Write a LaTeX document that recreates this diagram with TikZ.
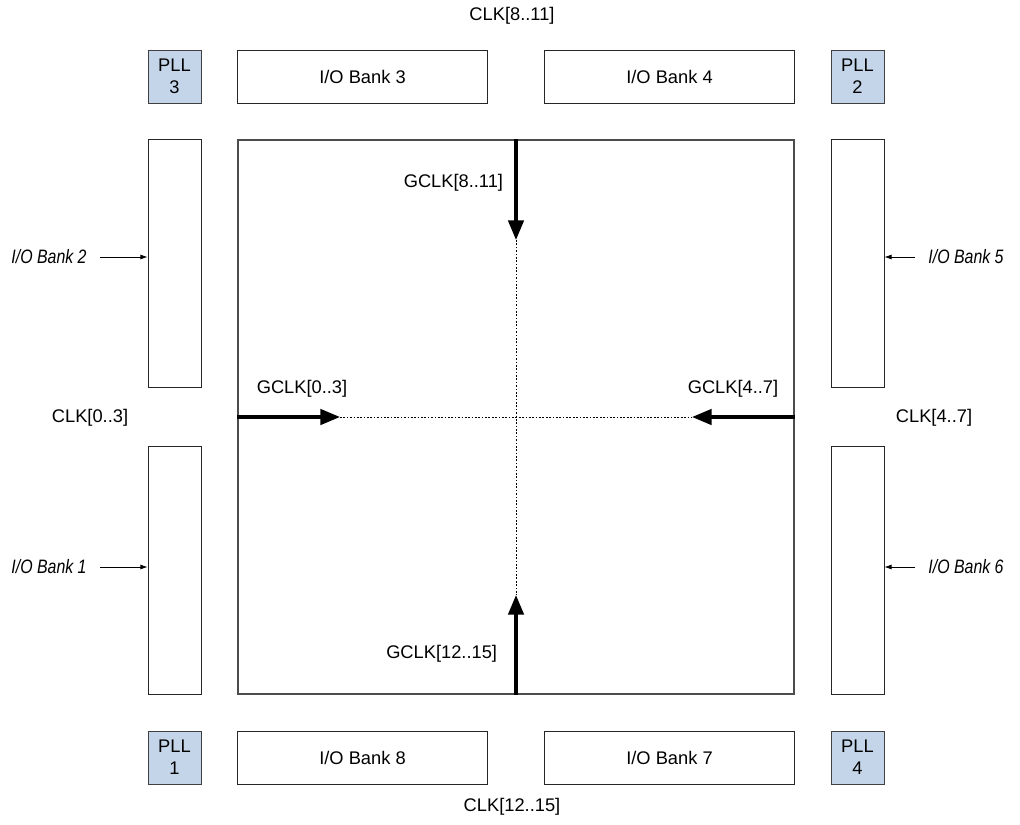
\documentclass[tikz,border=0pt]{standalone}
\usepackage{fontspec}
\setmainfont{Liberation Sans}
\newfontfamily\condit[FakeStretch=0.82]{Liberation Sans}
\usetikzlibrary{arrows.meta}
\definecolor{pllblue}{RGB}{196,213,234}
\tikzset{
  pll/.style={draw=black!75, fill=pllblue, line width=0.7pt, minimum width=1.325cm, minimum height=1.325cm, inner sep=0pt, align=center, font=\fontsize{13}{15.5}\selectfont},
  hbank/.style={draw=black!85, line width=0.7pt, minimum width=6.225cm, minimum height=1.325cm, inner sep=0pt},
  vbank/.style={draw=black!85, line width=0.7pt, minimum width=1.325cm, minimum height=6.175cm, inner sep=0pt},
  corebox/.style={draw=black!70, line width=0.9pt, minimum width=13.9cm, minimum height=13.85cm, inner sep=0pt},
  clkarrow/.style={-{Triangle[length=14pt,width=11pt]}, line width=2.3pt},
  dotline/.style={dash pattern=on 1.2pt off 1.2pt, line width=0.7pt},
  smallarrow/.style={-{Latex[length=5pt,width=3.5pt]}, line width=0.5pt, shorten <=6pt},
  banklabel/.style={font=\condit\itshape\fontsize{13.8}{16}\selectfont}
}
\begin{document}
\begin{tikzpicture}[x=0.025cm, y=-0.025cm, font=\fontsize{13}{15.5}\selectfont]
\useasboundingbox (0,0) rectangle (1020,824);

% Core
\node[corebox] (core) at (516,417) {};

% Top row
\node[pll] (pll3) at (174.5,76.5) {PLL\\3};
\node[hbank] (bank3) at (362.5,76.5) {I/O Bank 3};
\node[hbank] (bank4) at (669.5,76.5) {I/O Bank 4};
\node[pll] (pll2) at (857.5,76.5) {PLL\\2};

% Bottom row
\node[pll] (pll1) at (174.5,757.5) {PLL\\1};
\node[hbank] (bank8) at (362.5,757.5) {I/O Bank 8};
\node[hbank] (bank7) at (669.5,757.5) {I/O Bank 7};
\node[pll] (pll4) at (857.5,757.5) {PLL\\4};

% Side banks
\node[vbank] (bank2) at (174.5,263.5) {};
\node[vbank] (bank1) at (174.5,570.5) {};
\node[vbank] (bank5) at (857.5,263.5) {};
\node[vbank] (bank6) at (857.5,570.5) {};

% Bank labels
\node[banklabel] (lab2) at (49,257) {I/O Bank 2};
\node[banklabel] (lab1) at (49,567) {I/O Bank 1};
\node[banklabel] (lab5) at (966,257) {I/O Bank 5};
\node[banklabel] (lab6) at (966,567) {I/O Bank 6};
\draw[smallarrow] (lab2.east) -- (lab2.east -| bank2.west);
\draw[smallarrow] (lab1.east) -- (lab1.east -| bank1.west);
\draw[smallarrow] (lab5.west) -- (lab5.west -| bank5.east);
\draw[smallarrow] (lab6.west) -- (lab6.west -| bank6.east);

% Clock pins
\node (clk811) at (512,16) {CLK[8..11]};
\node (clk1215) at (512,807) {CLK[12..15]};
\node (clk03) at (90,418) {CLK[0..3]};
\node (clk47) at (934,418) {CLK[4..7]};

% Global clock networks
\coordinate (ttip) at (516,240);
\coordinate (btip) at (516,595);
\coordinate (ltip) at (340,417);
\coordinate (rtip) at (692,417);
\draw[dotline] (ttip) -- (btip);
\draw[dotline] (ltip) -- (rtip);
\draw[clkarrow] (core.north) -- (ttip);
\draw[clkarrow] (core.south) -- (btip);
\draw[clkarrow] (core.west) -- (ltip);
\draw[clkarrow] (core.east) -- (rtip);

\node[anchor=east] (g811) at (508,183) {GCLK[8..11]};
\node (g03) at (302,389) {GCLK[0..3]};
\node (g47) at (733,389) {GCLK[4..7]};
\node[anchor=east] (g1215) at (502,654) {GCLK[12..15]};
\end{tikzpicture}
\end{document}
